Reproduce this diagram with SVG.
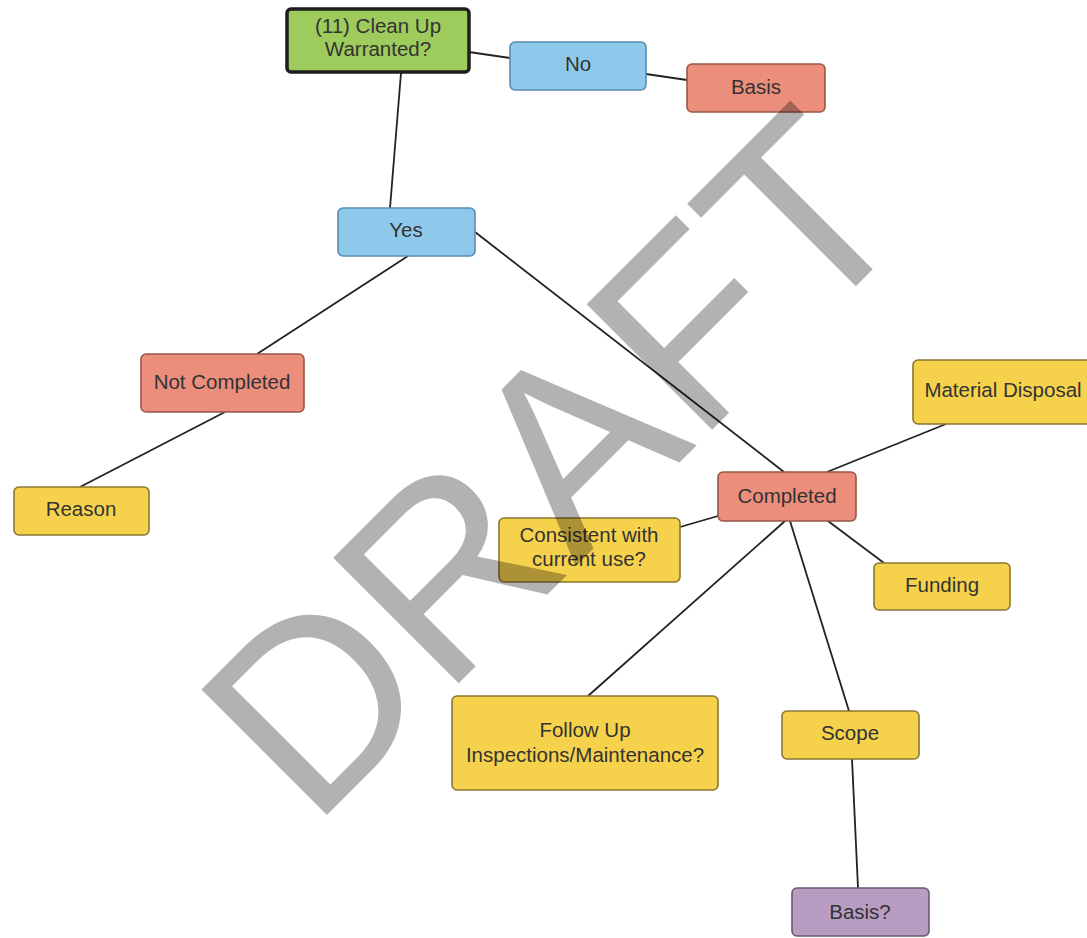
<svg xmlns="http://www.w3.org/2000/svg" width="1087" height="938" viewBox="0 0 1087 938">
<style>
.n{stroke-width:1.6}
.g{fill:#9dcb5c;stroke:#1e1e1e;stroke-width:3.5}
.b{fill:#8ec8ea;stroke:#5a8db0}
.r{fill:#ec8e7c;stroke:#96564a}
.y{fill:#f6d24c;stroke:#8a7632}
.p{fill:#b99cc1;stroke:#6b5773}
text{font-family:"Liberation Sans",Arial,sans-serif;font-size:20.5px;fill:#333;text-anchor:middle}
#conn line{stroke:#222;stroke-width:1.8}
.wm{font-size:258px;fill:#000;fill-opacity:0.3;text-anchor:start}
</style>
<rect width="1087" height="938" fill="#fff"/>
<g id="conn">
<line x1="469" y1="52" x2="510" y2="58"/>
<line x1="646" y1="74" x2="687" y2="80"/>
<line x1="401" y1="73" x2="390" y2="208"/>
<line x1="408" y1="256" x2="257" y2="354"/>
<line x1="475" y1="232" x2="784" y2="472"/>
<line x1="225" y1="412" x2="80" y2="487"/>
<line x1="827" y1="472" x2="946" y2="424"/>
<line x1="718" y1="516" x2="680" y2="527"/>
<line x1="828" y1="521" x2="884" y2="563"/>
<line x1="785" y1="521" x2="588" y2="696"/>
<line x1="790" y1="521" x2="849" y2="711"/>
<line x1="852" y1="759" x2="858" y2="888"/>
</g>
<g id="cleanup"><rect class="g" x="287" y="9" width="182" height="63" rx="4"/><text x="378" y="33">(11) Clean Up</text><text x="378" y="56">Warranted?</text></g>
<g id="no"><rect class="n b" x="510" y="42" width="136" height="48" rx="5"/><text x="578" y="71">No</text></g>
<g id="basis"><rect class="n r" x="687" y="64" width="138" height="48" rx="5"/><text x="756" y="94">Basis</text></g>
<g id="yes"><rect class="n b" x="338" y="208" width="137" height="48" rx="5"/><text x="406" y="237">Yes</text></g>
<g id="notcompleted"><rect class="n r" x="141" y="354" width="163" height="58" rx="5"/><text x="222" y="389">Not Completed</text></g>
<g id="reason"><rect class="n y" x="14" y="487" width="135" height="48" rx="5"/><text x="81" y="516">Reason</text></g>
<g id="material"><rect class="n y" x="913" y="360" width="182" height="64" rx="5"/><text x="1003" y="397">Material Disposal</text></g>
<g id="completed"><rect class="n r" x="718" y="472" width="138" height="49" rx="5"/><text x="787" y="503">Completed</text></g>
<g id="consistent"><rect class="n y" x="499" y="518" width="181" height="64" rx="5"/><text x="589" y="542">Consistent with</text><text x="589" y="566">current use?</text></g>
<g id="funding"><rect class="n y" x="874" y="563" width="136" height="47" rx="5"/><text x="942" y="592">Funding</text></g>
<g id="followup"><rect class="n y" x="452" y="696" width="266" height="94" rx="5"/><text x="585" y="737">Follow Up</text><text x="585" y="762">Inspections/Maintenance?</text></g>
<g id="scope"><rect class="n y" x="782" y="711" width="137" height="48" rx="5"/><text x="850" y="740">Scope</text></g>
<g id="basisq"><rect class="n p" x="792" y="888" width="137" height="48" rx="5"/><text x="860" y="919">Basis?</text></g>
<text class="wm" transform="translate(312,830) rotate(-45)">DRAFT</text>
</svg>
